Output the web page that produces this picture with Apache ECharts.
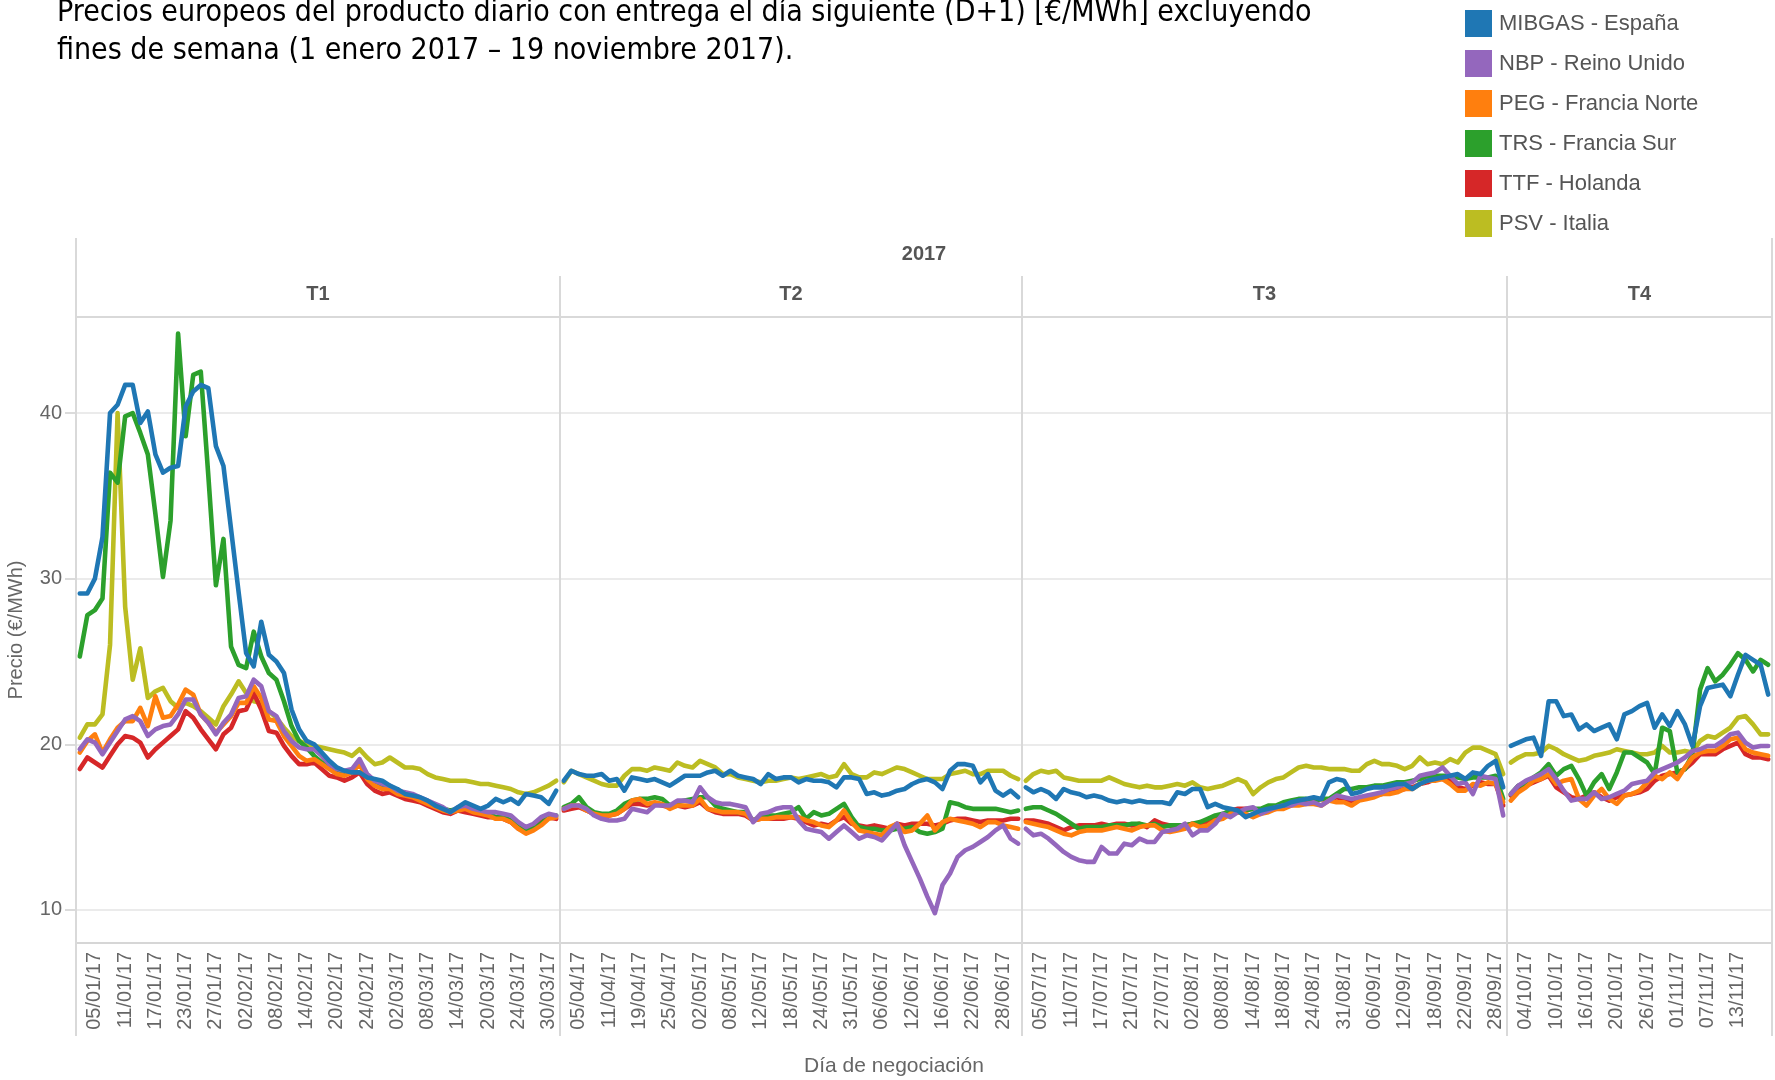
<!DOCTYPE html>
<html><head><meta charset="utf-8">
<script src="https://cdn.jsdelivr.net/npm/echarts@6/dist/echarts.min.js"></script>
<style>html,body{margin:0;padding:0;background:#fff}#c{width:1775px;height:1080px}</style>
</head><body><div id="c"></div>
<script>
// ---------- DATA ----------
const hubNames = ['MIBGAS - España','NBP - Reino Unido','PEG - Francia Norte','TRS - Francia Sur','TTF - Holanda','PSV - Italia'];
const hubColors = ['#1f77b4','#9467bd','#ff7f0e','#2ca02c','#d62728','#bcbd22'];
const quarterNames = ['T1','T2','T3','T4'];
const yearLabel = '2017';
const yTickValues = [10,20,30,40];
const firstDay = [2017,0,2];
const lastDay = [2017,10,17];
const excludedDays = ['02/01/17','14/04/17','17/04/17','01/05/17','29/05/17','28/08/17'];
const titleText = 'Precios europeos del producto diario con entrega el día siguiente (D+1) [€/MWh] excluyendo\nfines de semana (1 enero 2017 – 19 noviembre 2017).';
const yAxisTitle = 'Precio (€/MWh)';
const xAxisTitle = 'Día de negociación';

const mibgasT1 = [29.1,29.1,30.0,32.5,40.0,40.5,41.7,41.7,39.4,40.1,37.5,36.4,36.7,36.8,40.4,41.3,41.7,41.5,38.0,36.8,33.0,29.2,25.5,24.7,27.4,25.4,25.0,24.3,22.1,20.9,20.2,20.0,19.5,19.0,18.6,18.4,18.3,18.3,18.0,17.9,17.8,17.5,17.3,17.0,16.9,16.8,16.6,16.3,16.1,15.9,16.2,16.5,16.3,16.1,16.3,16.7,16.5,16.7,16.4,17.0,16.9,16.8,16.4,17.2];
const nbpT1 = [19.7,20.3,20.1,19.4,20.1,20.8,21.5,21.7,21.4,20.5,20.9,21.1,21.2,21.8,22.7,22.7,21.8,21.3,20.6,21.3,21.8,22.8,22.9,23.9,23.5,22.0,21.7,20.8,20.2,19.8,19.7,19.7,19.3,18.8,18.5,18.4,18.5,19.1,18.2,17.8,17.6,17.5,17.2,17.1,17.0,16.8,16.6,16.4,16.2,15.9,16.2,16.3,16.1,16.0,15.9,15.9,15.8,15.7,15.3,15.0,15.2,15.6,15.8,15.7];
const pegT1 = [19.5,20.2,20.6,19.5,20.3,21.0,21.4,21.4,22.2,21.1,22.9,21.6,21.7,22.4,23.3,23.0,21.8,21.3,20.7,21.2,21.7,22.5,22.5,23.5,22.8,21.5,21.4,20.5,19.9,19.3,19.0,19.1,18.8,18.5,18.2,18.1,18.3,18.8,17.9,17.5,17.3,17.3,17.0,16.9,16.8,16.6,16.4,16.2,16.0,15.9,16.0,16.1,15.9,15.8,15.7,15.5,15.5,15.3,14.9,14.6,14.8,15.1,15.5,15.6];
const trsT1 = [25.3,27.8,28.1,28.8,36.4,35.8,39.8,40.0,38.8,37.5,33.9,30.1,33.5,44.8,38.6,42.3,42.5,36.2,29.6,32.4,25.9,24.8,24.6,26.8,25.3,24.3,23.9,22.6,21.1,20.2,19.8,19.3,18.9,18.6,18.3,18.2,18.4,18.9,18.0,17.6,17.4,17.4,17.1,17.0,16.9,16.7,16.5,16.3,16.1,16.0,16.1,16.2,16.0,15.9,15.8,15.6,15.6,15.4,15.0,14.8,14.9,15.2,15.6,15.7];
const ttfT1 = [18.5,19.2,18.9,18.6,19.3,20.0,20.5,20.4,20.1,19.2,19.7,20.1,20.5,20.9,22.0,21.6,20.9,20.3,19.7,20.6,21.0,22.0,22.1,23.1,22.1,20.8,20.7,19.9,19.3,18.8,18.8,18.9,18.5,18.1,18.0,17.8,18.0,18.3,17.6,17.2,17.0,17.1,16.9,16.7,16.6,16.5,16.3,16.1,15.9,15.8,16.0,15.9,15.8,15.7,15.6,15.6,15.5,15.3,14.9,14.8,15.0,15.3,15.6,15.5];
const psvT1 = [20.4,21.2,21.2,21.8,26.0,40.0,28.3,23.9,25.8,22.8,23.2,23.4,22.6,22.2,22.5,22.3,22.0,21.6,21.2,22.3,23.0,23.8,23.1,22.6,22.5,22.0,21.6,21.0,20.5,20.2,20.0,19.9,19.8,19.7,19.6,19.5,19.3,19.7,19.2,18.8,18.9,19.2,18.9,18.6,18.6,18.5,18.2,18.0,17.9,17.8,17.8,17.8,17.7,17.6,17.6,17.5,17.4,17.3,17.1,17.0,17.1,17.3,17.5,17.8];

const mibgasT2 = [17.8,18.4,18.2,18.1,18.1,18.2,17.8,17.9,17.2,18.0,17.9,17.8,17.9,17.7,17.5,17.8,18.1,18.1,18.1,18.3,18.4,18.1,18.4,18.1,18.0,17.9,17.6,18.2,17.9,18.0,18.0,17.7,17.9,17.8,17.8,17.7,17.4,18.0,18.0,17.9,17.0,17.1,16.9,17.0,17.2,17.3,17.6,17.8,17.9,17.7,17.3,18.4,18.8,18.8,18.7,17.7,18.2,17.2,16.9,17.2,16.8];
const nbpT2 = [16.1,16.3,16.3,16.1,15.7,15.5,15.4,15.4,15.5,16.1,16.0,15.9,16.3,16.3,16.3,16.6,16.6,16.5,17.4,16.8,16.5,16.4,16.4,16.3,16.2,15.3,15.8,15.9,16.1,16.2,16.2,15.4,14.9,14.8,14.7,14.3,14.7,15.1,14.7,14.3,14.5,14.4,14.2,14.7,15.2,13.9,12.9,11.9,10.8,9.8,11.5,12.2,13.2,13.6,13.8,14.1,14.4,14.8,15.1,14.3,14.0];
const pegT2 = [16.1,16.3,16.3,16.0,15.8,15.7,15.7,15.8,16.1,16.6,16.7,16.4,16.5,16.4,16.1,16.3,16.3,16.3,16.7,16.1,16.0,15.9,15.9,15.9,15.8,15.4,15.5,15.5,15.6,15.6,15.6,15.6,15.4,15.3,15.1,15.0,15.4,16.0,15.3,14.8,14.7,14.6,14.5,15.0,15.2,14.7,14.8,15.2,15.7,14.8,15.3,15.5,15.4,15.3,15.2,15.0,15.3,15.3,15.1,15.0,14.9];
const trsT2 = [16.2,16.4,16.8,16.2,15.9,15.8,15.8,16.0,16.4,16.6,16.7,16.7,16.8,16.7,16.3,16.5,16.6,16.7,16.8,16.8,16.3,16.1,16.0,15.9,15.9,15.4,15.6,15.7,15.7,15.8,15.9,16.2,15.5,15.9,15.7,15.8,16.1,16.4,15.6,15.0,14.9,14.9,14.8,14.8,14.9,14.9,15.0,14.7,14.6,14.7,14.9,16.5,16.4,16.2,16.1,16.1,16.1,16.1,16.0,15.9,16.0];
const ttfT2 = [16.0,16.1,16.2,16.0,15.8,15.7,15.7,15.8,16.1,16.4,16.4,16.3,16.4,16.3,16.2,16.3,16.2,16.3,16.5,16.1,15.9,15.8,15.8,15.8,15.7,15.4,15.5,15.5,15.5,15.5,15.6,15.5,15.3,15.1,15.2,15.1,15.4,15.6,15.2,15.1,15.0,15.1,15.0,14.9,15.2,15.1,15.2,15.2,15.2,15.1,15.2,15.4,15.5,15.5,15.4,15.3,15.4,15.4,15.4,15.5,15.5];
const psvT2 = [17.7,18.4,18.2,18.0,17.8,17.6,17.5,17.5,18.1,18.5,18.5,18.4,18.6,18.5,18.4,18.9,18.7,18.6,19.0,18.8,18.6,18.2,18.2,18.0,17.9,17.8,17.7,17.8,17.8,17.9,18.0,17.9,18.0,18.1,18.2,18.0,18.1,18.8,18.2,18.0,18.0,18.3,18.2,18.4,18.6,18.5,18.3,18.1,17.9,17.9,17.9,18.2,18.3,18.4,18.2,18.2,18.4,18.4,18.4,18.1,17.9];

const mibgasT3 = [17.4,17.1,17.3,17.1,16.7,17.3,17.1,17.0,16.8,16.9,16.8,16.6,16.5,16.6,16.5,16.6,16.5,16.5,16.5,16.4,17.1,17.0,17.3,17.3,16.2,16.4,16.2,16.1,16.0,15.6,15.8,16.0,16.1,16.2,16.3,16.5,16.6,16.7,16.8,16.7,17.7,17.9,17.8,17.0,17.1,17.3,17.4,17.4,17.5,17.6,17.6,17.3,17.6,17.8,17.9,18.0,18.1,18.2,17.9,18.3,18.2,18.7,19.0,17.4];
const nbpT3 = [14.9,14.5,14.6,14.3,13.9,13.5,13.2,13.0,12.9,12.9,13.8,13.4,13.4,14.0,13.9,14.3,14.1,14.1,14.7,14.8,14.9,15.2,14.5,14.8,14.8,15.2,15.8,15.6,15.9,16.1,16.2,15.8,16.0,16.2,16.3,16.3,16.5,16.4,16.5,16.3,16.6,16.9,16.8,16.7,16.8,16.9,17.0,17.1,17.3,17.4,17.6,17.7,18.1,18.2,18.3,18.6,18.1,17.6,17.7,17.0,18.1,18.0,17.9,15.7];
const pegT3 = [15.3,15.2,15.1,15.0,14.8,14.6,14.5,14.7,14.8,14.8,14.8,14.9,15.0,14.9,14.8,15.0,15.1,15.1,14.8,14.7,14.8,14.9,15.2,15.0,15.1,15.4,15.5,15.8,15.9,15.8,15.6,15.8,15.9,16.1,16.1,16.3,16.3,16.4,16.4,16.3,16.6,16.5,16.5,16.3,16.6,16.7,16.8,17.0,17.0,17.1,17.3,17.3,17.6,17.8,17.8,17.9,17.6,17.2,17.2,17.6,17.5,17.7,17.6,16.5];
const trsT3 = [16.1,16.2,16.2,16.0,15.8,15.5,15.2,14.9,15.0,15.0,15.0,15.1,15.1,15.1,15.2,15.2,15.1,15.2,15.0,15.1,15.1,15.1,15.2,15.3,15.5,15.7,15.8,16.0,15.9,16.0,16.1,16.1,16.3,16.3,16.5,16.6,16.7,16.7,16.6,16.7,16.7,17.0,17.3,17.3,17.4,17.4,17.5,17.5,17.6,17.7,17.7,17.8,17.9,18.0,18.1,18.1,18.1,18.0,17.9,18.0,18.0,18.0,18.1,16.7];
const ttfT3 = [15.4,15.4,15.3,15.2,15.0,14.8,15.0,15.1,15.1,15.1,15.2,15.1,15.2,15.2,15.1,15.2,15.0,15.4,15.2,15.1,15.0,15.1,15.2,15.2,15.3,15.5,15.7,16.0,16.1,16.1,16.1,15.9,16.1,16.1,16.3,16.4,16.4,16.5,16.6,16.7,16.6,16.8,16.7,16.5,16.7,16.8,16.9,17.0,17.1,17.2,17.3,17.4,17.6,17.7,17.9,17.9,17.8,17.4,17.3,17.5,17.7,17.6,17.6,16.3];
const psvT3 = [17.8,18.2,18.4,18.3,18.4,18.0,17.9,17.8,17.8,17.8,17.8,18.0,17.8,17.6,17.5,17.4,17.5,17.4,17.4,17.5,17.6,17.5,17.7,17.4,17.3,17.4,17.5,17.7,17.9,17.7,17.0,17.4,17.7,17.9,18.0,18.3,18.6,18.7,18.6,18.6,18.5,18.5,18.5,18.4,18.4,18.8,19.0,18.8,18.8,18.7,18.5,18.7,19.2,18.8,18.9,18.8,19.1,18.9,19.5,19.8,19.8,19.6,19.4,18.2];

const mibgasT4 = [19.9,20.1,20.3,20.4,19.3,22.6,22.6,21.7,21.8,20.9,21.2,20.8,21.0,21.2,20.3,21.8,22.0,22.3,22.5,21.0,21.8,21.1,22.0,21.2,19.9,22.3,23.4,23.5,23.6,22.9,24.2,25.4,25.1,24.8,23.0];
const nbpT4 = [17.0,17.5,17.8,18.0,18.2,18.5,17.9,17.2,16.6,16.7,16.7,17.1,16.7,16.8,17.0,17.2,17.6,17.7,17.8,18.3,18.5,18.7,18.9,19.2,19.6,19.7,19.9,19.9,20.2,20.6,20.7,20.1,19.8,19.9,19.9];
const pegT4 = [16.6,17.1,17.4,17.8,17.9,18.2,17.6,17.8,17.9,16.7,16.3,16.9,17.3,16.7,16.4,16.9,17.0,17.2,17.7,18.1,17.9,18.3,17.9,18.6,19.2,19.5,19.6,19.6,19.9,20.3,20.4,19.7,19.5,19.4,19.3];
const trsT4 = [17.0,17.5,17.6,18.0,18.3,18.8,18.1,18.5,18.7,17.9,16.9,17.7,18.2,17.3,18.3,19.5,19.5,19.2,18.9,18.2,21.0,20.8,18.3,18.5,19.4,23.3,24.6,23.8,24.2,24.8,25.5,25.1,24.4,25.1,24.8];
const ttfT4 = [16.9,17.2,17.5,17.7,17.9,18.1,17.4,17.1,16.8,16.7,16.9,17.1,16.8,16.6,16.8,16.9,17.0,17.1,17.3,17.8,18.1,18.2,18.3,18.5,18.9,19.4,19.4,19.4,19.7,19.9,20.1,19.4,19.2,19.2,19.1];
const psvT4 = [18.9,19.2,19.4,19.4,19.5,19.9,19.7,19.4,19.2,19.0,19.1,19.3,19.4,19.5,19.7,19.6,19.5,19.4,19.4,19.5,19.9,19.5,19.5,19.6,19.5,20.2,20.5,20.4,20.7,21.0,21.6,21.7,21.2,20.6,20.6];

// ---------- BUILD ----------
const hubData = [
  [mibgasT1, mibgasT2, mibgasT3, mibgasT4],
  [nbpT1, nbpT2, nbpT3, nbpT4],
  [pegT1, pegT2, pegT3, pegT4],
  [trsT1, trsT2, trsT3, trsT4],
  [ttfT1, ttfT2, ttfT3, ttfT4],
  [psvT1, psvT2, psvT3, psvT4]
];
function pad(n){return (n<10?'0':'')+n;}
const quarterDates = [[],[],[],[]];
(function(){
  let t = Date.UTC(firstDay[0], firstDay[1], firstDay[2]);
  const end = Date.UTC(lastDay[0], lastDay[1], lastDay[2]);
  while (t <= end) {
    const d = new Date(t);
    const wd = d.getUTCDay();
    const s = pad(d.getUTCDate()) + '/' + pad(d.getUTCMonth()+1) + '/' + String(d.getUTCFullYear()).slice(2);
    if (wd !== 0 && wd !== 6 && excludedDays.indexOf(s) < 0) {
      quarterDates[Math.floor(d.getUTCMonth()/3)].push(s);
    }
    t += 86400000;
  }
})();

const FONT = "'Liberation Sans', Arial, sans-serif";
const paneLeft = [76, 560, 1022, 1507];
const paneRight = [560, 1022, 1507, 1772];
const plotTop = 317, plotBottom = 943;
const drawOrder = [5, 4, 3, 2, 1, 0]; // PSV, TTF, TRS, PEG, NBP, MIBGAS (MIBGAS on top)

const grids = [], xAxes = [], yAxes = [], series = [];
for (let q = 0; q < 4; q++) {
  const nDays = quarterDates[q].length;
  grids.push({left: paneLeft[q], width: paneRight[q]-paneLeft[q], top: plotTop, height: plotBottom-plotTop, containLabel: false});
  xAxes.push({
    type: 'category', gridIndex: q, data: quarterDates[q], boundaryGap: true,
    axisLine: {show: true, lineStyle: {color: '#d6d6d6', width: 2}},
    axisTick: {show: false},
    splitLine: {show: false},
    axisLabel: {
      interval: function(i){ return i % 4 === 2 && i < nDays - 1; },
      rotate: 90, fontSize: 20, color: '#666', margin: 9, fontFamily: FONT
    }
  });
  yAxes.push({
    type: 'value', gridIndex: q, min: 8, max: 45.8,
    splitLine: {show: false},
    axisLine: {show: false},
    axisTick: q === 0 ? {show: true, customValues: yTickValues, length: 11, lineStyle: {color: '#cfcfcf', width: 1.5}} : {show: false},
    axisLabel: q === 0 ? {show: true, customValues: yTickValues, fontSize: 20, color: '#666', margin: 14, fontFamily: FONT} : {show: false},
    name: q === 0 ? yAxisTitle : '',
    nameLocation: 'middle', nameRotate: 90, nameGap: 50,
    nameTextStyle: {fontSize: 20, color: '#666', fontFamily: FONT}
  });
  drawOrder.forEach(function(h, k){
    const s = {
      name: hubNames[h], type: 'line', xAxisIndex: q, yAxisIndex: q,
      data: hubData[h][q], showSymbol: false, symbol: 'none',
      color: hubColors[h], itemStyle: {color: hubColors[h]},
      lineStyle: {width: 4.6, color: hubColors[h], join: 'round', cap: 'round'},
      z: 3 + k, silent: true, animation: false
    };
    if (k === 0) {
      s.markLine = {
        silent: true, symbol: 'none', z: 1, animation: false,
        label: {show: false},
        lineStyle: {color: '#ebebeb', width: 2, type: 'solid'},
        emphasis: {disabled: true},
        data: yTickValues.map(function(v){ return {yAxis: v}; })
      };
    }
    series.push(s);
  });
}

const lineColor = '#d9d9d9';
const graphics = [];
function vline(x, y1, y2){ graphics.push({type:'line', silent:true, z:10, shape:{x1:x,y1:y1,x2:x,y2:y2}, style:{stroke:lineColor, lineWidth:2}}); }
vline(76, 238, 1036);
vline(560, 276, 1036);
vline(1022, 276, 1036);
vline(1507, 276, 1036);
vline(1772, 238, 1036);
graphics.push({type:'line', silent:true, z:10, shape:{x1:76,y1:plotTop,x2:1772,y2:plotTop}, style:{stroke:lineColor, lineWidth:2}});
graphics.push({type:'text', silent:true, z:10, x: (76+1772)/2, y: 254, style:{text: yearLabel, fill:'#555', font: "bold 20px " + FONT, textAlign:'center', textVerticalAlign:'middle'}});
for (let q = 0; q < 4; q++) {
  graphics.push({type:'text', silent:true, z:10, x: (paneLeft[q]+paneRight[q])/2, y: 294, style:{text: quarterNames[q], fill:'#555', font: "bold 20px " + FONT, textAlign:'center', textVerticalAlign:'middle'}});
}
graphics.push({type:'text', silent:true, z:10, x: 894, y: 1066, style:{text: xAxisTitle, fill:'#666', font: "21px " + FONT, textAlign:'center', textVerticalAlign:'middle'}});

const option = {
  animation: false,
  backgroundColor: '#ffffff',
  title: {
    text: titleText, left: 52, top: -11,
    textStyle: {fontSize: 30, fontWeight: 'normal', color: '#000', lineHeight: 38,
      fontFamily: "'Liberation Sans Narrow','DejaVu Sans Condensed','Roboto Condensed',sans-serif"}
  },
  legend: {
    data: hubNames, orient: 'vertical', left: 1460, top: 5,
    icon: 'rect', itemWidth: 27, itemHeight: 27, itemGap: 13,
    selectedMode: false,
    textStyle: {fontSize: 22, color: '#555', fontFamily: FONT, padding: [0,0,0,2]}
  },
  grid: grids, xAxis: xAxes, yAxis: yAxes, series: series,
  graphic: graphics
};
const chart = echarts.init(document.getElementById('c'), null, {renderer: 'canvas'});
chart.setOption(option);
</script></body></html>
